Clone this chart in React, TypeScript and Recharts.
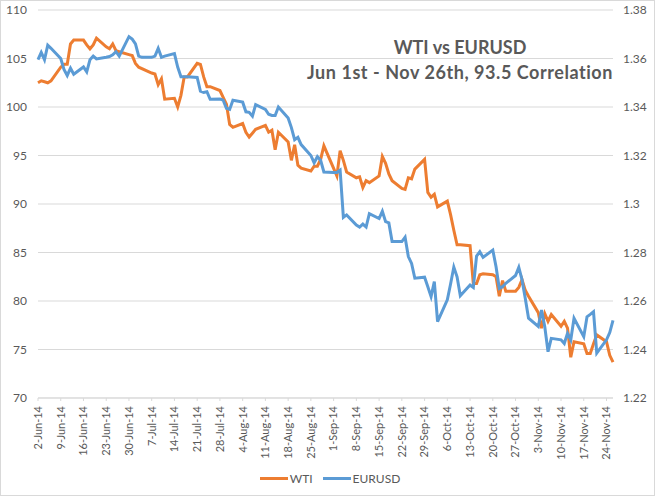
import { CartesianGrid, Legend, Line, LineChart, XAxis, YAxis } from "recharts";

const TEXT = "#595959";
const GRID = "#d9d9d9";
const FONT = "Lato, 'Open Sans', sans-serif";

// trading days, Jun 2 – Nov 26 2014
const DATES = [
  "2014-06-02", "2014-06-03", "2014-06-04", "2014-06-05", "2014-06-06",
  "2014-06-09", "2014-06-10", "2014-06-11", "2014-06-12", "2014-06-13",
  "2014-06-16", "2014-06-17", "2014-06-18", "2014-06-19", "2014-06-20",
  "2014-06-23", "2014-06-24", "2014-06-25", "2014-06-26", "2014-06-27",
  "2014-06-30", "2014-07-01", "2014-07-02", "2014-07-03", "2014-07-04",
  "2014-07-07", "2014-07-08", "2014-07-09", "2014-07-10", "2014-07-11",
  "2014-07-14", "2014-07-15", "2014-07-16", "2014-07-17", "2014-07-18",
  "2014-07-21", "2014-07-22", "2014-07-23", "2014-07-24", "2014-07-25",
  "2014-07-28", "2014-07-29", "2014-07-30", "2014-07-31", "2014-08-01",
  "2014-08-04", "2014-08-05", "2014-08-06", "2014-08-07", "2014-08-08",
  "2014-08-11", "2014-08-12", "2014-08-13", "2014-08-14", "2014-08-15",
  "2014-08-18", "2014-08-19", "2014-08-20", "2014-08-21", "2014-08-22",
  "2014-08-25", "2014-08-26", "2014-08-27", "2014-08-28", "2014-08-29",
  "2014-09-01", "2014-09-02", "2014-09-03", "2014-09-04", "2014-09-05",
  "2014-09-08", "2014-09-09", "2014-09-10", "2014-09-11", "2014-09-12",
  "2014-09-15", "2014-09-16", "2014-09-17", "2014-09-18", "2014-09-19",
  "2014-09-22", "2014-09-23", "2014-09-24", "2014-09-25", "2014-09-26",
  "2014-09-29", "2014-09-30", "2014-10-01", "2014-10-02", "2014-10-03",
  "2014-10-06", "2014-10-07", "2014-10-08", "2014-10-09", "2014-10-10",
  "2014-10-13", "2014-10-14", "2014-10-15", "2014-10-16", "2014-10-17",
  "2014-10-20", "2014-10-21", "2014-10-22", "2014-10-23", "2014-10-24",
  "2014-10-27", "2014-10-28", "2014-10-29", "2014-10-30", "2014-10-31",
  "2014-11-03", "2014-11-04", "2014-11-05", "2014-11-06", "2014-11-07",
  "2014-11-10", "2014-11-11", "2014-11-12", "2014-11-13", "2014-11-14",
  "2014-11-17", "2014-11-18", "2014-11-19", "2014-11-20", "2014-11-21",
  "2014-11-24", "2014-11-25", "2014-11-26",
];

// WTI, USD/bbl (null = US holiday)
const WTI = [
  102.5, 102.7, 102.6, 102.5, 102.7,
  104.1, 104.4, 104.4, 106.5, 106.9,
  106.9, 106.4, 106.0, 106.4, 107.1,
  106.2, 106.0, 106.5, 105.8, 105.7,
  105.4, 105.3, 104.5, 104.1, null,
  103.5, 103.4, 102.3, 102.9, 100.8,
  100.9, 100.0, 101.2, 103.1, 103.1,
  104.5, 104.4, 103.1, 102.1, 102.1,
  101.7, 101.0, 100.3, 98.2, 97.9,
  98.3, 97.4, 96.9, 97.3, 97.7,
  98.1, 97.4, 97.6, 95.6, 97.4,
  96.4, 94.5, 96.1, 94.0, 93.7,
  93.4, 93.9, 93.9, 94.6, 96.0,
  null, 92.9, 95.5, 94.5, 93.3,
  92.7, 92.8, 91.7, 92.4, 92.2,
  92.9, 94.9, 94.2, 93.1, 92.4,
  91.6, 91.5, 92.7, 92.6, 93.6,
  94.6, 91.2, 90.7, 91.0, 89.7,
  90.3, 88.9, 87.3, 85.8, 85.8,
  85.7, 81.8, 81.8, 82.7, 82.8,
  82.7, 82.5, 80.5, 82.1, 81.0,
  81.0, 81.4, 82.2, 81.1, 80.5,
  78.8, 77.2, 78.7, 77.9, 78.6,
  77.4, 77.9, 77.2, 74.2, 75.8,
  75.6, 74.6, 74.6, 75.6, 76.5,
  75.8, 74.4, 73.7,
];

const EURUSD = [
  1.3595, 1.3625, 1.3595, 1.3655, 1.3642,
  1.36, 1.3555, 1.353, 1.356, 1.3535,
  1.3565, 1.3545, 1.3595, 1.361, 1.3598,
  1.3605, 1.3608, 1.3615, 1.3628, 1.361,
  1.369, 1.368, 1.366, 1.361, 1.3605,
  1.3605, 1.361, 1.3642, 1.3605, 1.361,
  1.362, 1.3565, 1.3525, 1.3525, 1.3525,
  1.3522, 1.3465, 1.346, 1.3463, 1.3432,
  1.3433, 1.3428, 1.3395, 1.339, 1.3428,
  1.342, 1.338, 1.3378, 1.3362, 1.341,
  1.339, 1.337, 1.3365, 1.3365, 1.34,
  1.3355, 1.3315, 1.3265, 1.3275, 1.3245,
  1.32, 1.317, 1.3195, 1.318, 1.3132,
  1.313, 1.313, 1.314, 1.2945, 1.2955,
  1.2913, 1.2905, 1.2917, 1.2905, 1.296,
  1.294, 1.297, 1.2927, 1.2922, 1.2845,
  1.2845, 1.2863, 1.2783, 1.2755, 1.2694,
  1.2698, 1.2659, 1.2618, 1.268, 1.2515,
  1.2605, 1.267, 1.274, 1.27, 1.2622,
  1.2666, 1.2656, 1.2785, 1.2803, 1.278,
  1.281, 1.2741, 1.2652, 1.2659, 1.2673,
  1.2705, 1.2739, 1.2687, 1.261, 1.2529,
  1.2495, 1.2563, 1.2494, 1.2391, 1.2446,
  1.244, 1.2425, 1.2467, 1.2439, 1.2529,
  1.2453, 1.2535, 1.2545, 1.2556, 1.2385,
  1.244, 1.247, 1.252,
];

const TICK_LABELS = [
  "2-Jun-14", "9-Jun-14", "16-Jun-14", "23-Jun-14", "30-Jun-14",
  "7-Jul-14", "14-Jul-14", "21-Jul-14", "28-Jul-14",
  "4-Aug-14", "11-Aug-14", "18-Aug-14", "25-Aug-14",
  "1-Sep-14", "8-Sep-14", "15-Sep-14", "22-Sep-14", "29-Sep-14",
  "6-Oct-14", "13-Oct-14", "20-Oct-14", "27-Oct-14",
  "3-Nov-14", "10-Nov-14", "17-Nov-14", "24-Nov-14",
];

const WTI_TICKS = [70, 75, 80, 85, 90, 95, 100, 105, 110];
const EUR_TICKS = [1.22, 1.24, 1.26, 1.28, 1.3, 1.32, 1.34, 1.36, 1.38];

const DAY = 86400000;
const START = Date.parse(DATES[0]);
const END = Date.parse(DATES[DATES.length - 1]);

const data = DATES.map((d, i) => ({
  day: (Date.parse(d) - START) / DAY,
  wti: WTI[i],
  eur: EURUSD[i],
}));

const tickDays = TICK_LABELS.map((_, i) => i * 7);

function DateTick({ x, y, index }: any) {
  return (
    <g transform={`translate(${x},${y})`}>
      <text
        transform="rotate(-90)"
        textAnchor="end"
        dy="0.35em"
        fill={TEXT}
        fontSize={11}
        fontFamily={FONT}
      >
        {TICK_LABELS[index]}
      </text>
    </g>
  );
}

function LegendBox() {
  const items = [
    { name: "WTI", color: "#ED7D31" },
    { name: "EURUSD", color: "#5B9BD5" },
  ];
  return (
    <div
      style={{
        display: "flex",
        justifyContent: "center",
        alignItems: "center",
        gap: 10,
        height: 20,
        paddingLeft: 5,
        fontFamily: FONT,
        fontSize: 12,
        color: TEXT,
      }}
    >
      {items.map((it) => (
        <span key={it.name} style={{ display: "flex", alignItems: "center" }}>
          <span style={{ width: 28, height: 3, background: it.color, marginRight: 2 }} />
          {it.name}
        </span>
      ))}
    </div>
  );
}

export default function App() {
  return (
    <div style={{ position: "absolute", left: 0, top: 0, width: 655, height: 496, background: "#fff" }}>
      <LineChart width={655} height={496} data={data} margin={{ top: 10, right: 0, left: 0, bottom: 8 }}>
        <CartesianGrid yAxisId="left" vertical={false} stroke={GRID} />
        <XAxis
          dataKey="day"
          type="number"
          domain={[0, (END - START) / DAY]}
          ticks={tickDays}
          interval={0}
          height={70}
          tick={<DateTick />}
          tickSize={3}
          tickMargin={5}
          axisLine={{ stroke: GRID }}
          tickLine={{ stroke: GRID }}
        />
        <YAxis
          yAxisId="left"
          domain={[70, 110]}
          ticks={WTI_TICKS}
          width={38}
          axisLine={false}
          tickLine={false}
          tickMargin={5}
          tick={{ fill: TEXT, fontSize: 12, fontFamily: FONT }}
        />
        <YAxis
          yAxisId="right"
          orientation="right"
          domain={[1.22, 1.38]}
          ticks={EUR_TICKS}
          width={42}
          axisLine={false}
          tickLine={false}
          tickMargin={4}
          tickFormatter={(v) => String(Number(v.toFixed(2)))}
          tick={{ fill: TEXT, fontSize: 12, fontFamily: FONT }}
        />
        <Legend verticalAlign="bottom" content={() => <LegendBox />} />
        <Line
          yAxisId="left"
          type="linear"
          dataKey="wti"
          name="WTI"
          stroke="#ED7D31"
          strokeWidth={3}
          dot={false}
          connectNulls
          isAnimationActive={false}
        />
        <Line
          yAxisId="right"
          type="linear"
          dataKey="eur"
          name="EURUSD"
          stroke="#5B9BD5"
          strokeWidth={3}
          dot={false}
          isAnimationActive={false}
        />
      </LineChart>
      <svg width={655} height={496} style={{ position: "absolute", left: 0, top: 0, pointerEvents: "none" }}>
        <g fill={TEXT} fontFamily={FONT} fontWeight="bold" fontSize={18} textAnchor="middle">
          <text x={460} y={54}>WTI vs EURUSD</text>
          <text x={460} y={79} letterSpacing={0.55}>Jun 1st - Nov 26th, 93.5 Correlation</text>
        </g>
        <rect x={0.5} y={0.5} width={654} height={495} fill="none" stroke={GRID} />
      </svg>
    </div>
  );
}
